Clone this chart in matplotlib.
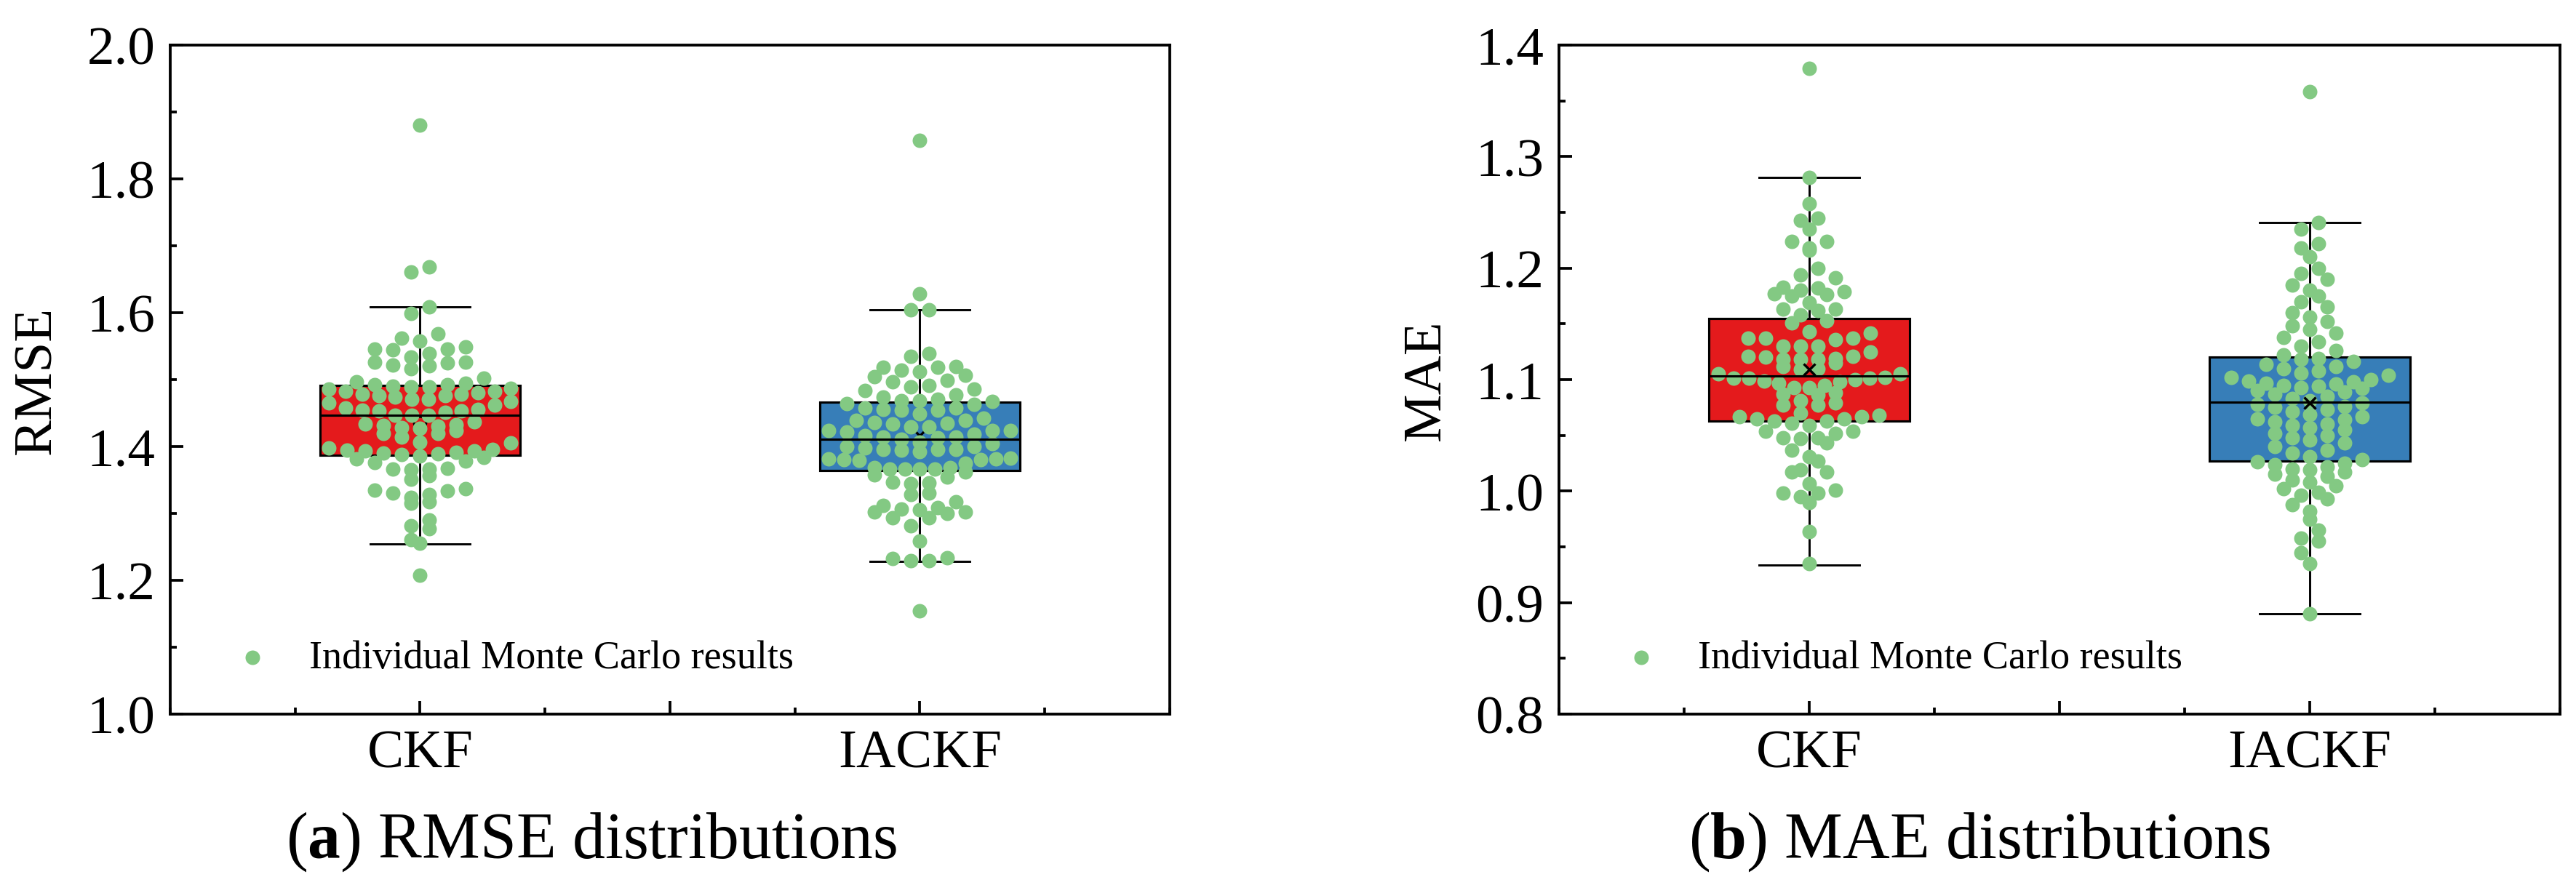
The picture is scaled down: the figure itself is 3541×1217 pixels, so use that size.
import numpy as np
import matplotlib
matplotlib.use('Agg')
import matplotlib.pyplot as plt
from matplotlib.ticker import MultipleLocator, FormatStrFormatter

plt.rcParams['font.family'] = ['Liberation Serif', 'DejaVu Serif']
plt.rcParams['mathtext.fontset'] = 'custom'
plt.rcParams['mathtext.rm'] = 'Liberation Serif'
plt.rcParams['mathtext.bf'] = 'Liberation Serif:bold'

groups = ['CKF', 'IACKF']

# individual Monte Carlo runs
rmse_ckf = [1.487, 1.478, 1.393, 1.497, 1.467, 1.453, 1.437, 1.386, 1.367,
            1.483, 1.474, 1.451, 1.428, 1.526, 1.396, 1.366, 1.328,
            1.546, 1.492, 1.480, 1.447, 1.434, 1.420, 1.539, 1.390, 1.378, 1.335,
            1.549, 1.502, 1.489, 1.476, 1.455, 1.431, 1.407,
            1.568, 1.526, 1.398, 1.384, 1.357, 1.330, 1.317, 1.282, 1.261,
            1.609, 1.599, 1.558, 1.516, 1.490, 1.462, 1.453, 1.430, 1.405, 1.277, 1.208,
            1.562, 1.525, 1.393, 1.366, 1.351, 1.324, 1.315, 1.290, 1.255,
            1.545, 1.521, 1.489, 1.478, 1.447, 1.427, 1.414,
            1.522, 1.391, 1.382, 1.334, 1.546, 1.495, 1.471, 1.458, 1.420,
            1.534, 1.395, 1.365, 1.337, 1.486, 1.476, 1.454, 1.424, 1.389, 1.376,
            1.492, 1.465, 1.447, 1.433, 1.388, 1.483, 1.471,
            1.880, 1.669, 1.661]
rmse_iackf = [1.628, 1.604, 1.604, 1.539, 1.535, 1.518, 1.518, 1.520, 1.514, 1.512,
              1.504, 1.499, 1.506, 1.497, 1.491, 1.486, 1.489, 1.484, 1.477, 1.474,
              1.464, 1.471, 1.469, 1.468, 1.467, 1.463, 1.458, 1.454, 1.455, 1.458,
              1.454, 1.449, 1.439, 1.439, 1.442, 1.435, 1.429, 1.424, 1.436, 1.434,
              1.429, 1.424, 1.424, 1.422, 1.414, 1.411, 1.418, 1.407, 1.416, 1.414,
              1.413, 1.400, 1.392, 1.396, 1.396, 1.400, 1.395, 1.396, 1.404, 1.398,
              1.380, 1.382, 1.382, 1.380, 1.383, 1.379, 1.375, 1.366, 1.368, 1.362,
              1.366, 1.366, 1.369, 1.366, 1.354, 1.358, 1.347, 1.346, 1.345, 1.330,
              1.328, 1.317, 1.307, 1.305, 1.312, 1.302, 1.300, 1.293, 1.294, 1.302,
              1.309, 1.282, 1.259, 1.229, 1.234, 1.233, 1.229, 1.858, 1.154]
mae_ckf = [1.281, 1.258, 1.243, 1.245, 1.235, 1.224, 1.216, 1.224, 1.218, 1.200,
           1.194, 1.191, 1.183, 1.182, 1.180, 1.179, 1.176, 1.177, 1.175,
           1.169, 1.163, 1.158, 1.163, 1.162, 1.153, 1.151,
           1.142, 1.137, 1.143, 1.137, 1.137, 1.130, 1.136, 1.130, 1.130,
           1.118, 1.118, 1.121, 1.120, 1.121, 1.118, 1.119, 1.125, 1.115,
           1.112, 1.110, 1.109,
           1.105, 1.100, 1.101, 1.098, 1.099, 1.102, 1.105, 1.101, 1.101,
           1.097, 1.095, 1.093, 1.093, 1.088, 1.086, 1.087,
           1.077, 1.077, 1.081, 1.079, 1.070, 1.067, 1.067, 1.068,
           1.061, 1.063, 1.059, 1.063, 1.065, 1.065,
           1.054, 1.048, 1.052, 1.048, 1.054, 1.047,
           1.043, 1.037, 1.031, 1.027, 1.019, 1.017, 1.017,
           1.007, 1.001, 0.998, 0.995, 0.998, 0.990, 0.964, 0.935, 1.379]
mae_iackf = [0.890, 0.935, 0.945, 0.955, 0.958, 0.965, 0.975, 0.982, 0.988, 0.993,
             0.996, 0.999, 1.002, 1.005, 1.008, 1.010, 1.013, 1.015, 1.017, 1.019,
             1.020, 1.022, 1.024, 1.025, 1.026, 1.028, 1.031, 1.034, 1.037, 1.040,
             1.043, 1.046, 1.048, 1.050, 1.052, 1.055, 1.057, 1.059, 1.060, 1.062,
             1.064, 1.065, 1.067, 1.069, 1.071, 1.073, 1.075, 1.076, 1.078, 1.079,
             1.081, 1.083, 1.085, 1.087, 1.089, 1.090, 1.092, 1.093, 1.094, 1.095,
             1.096, 1.097, 1.098, 1.099, 1.100, 1.102, 1.104, 1.106, 1.108, 1.110,
             1.112, 1.114, 1.116, 1.118, 1.119, 1.122, 1.126, 1.130, 1.134, 1.138,
             1.142, 1.145, 1.148, 1.152, 1.156, 1.160, 1.165, 1.170, 1.175, 1.180,
             1.185, 1.190, 1.195, 1.200, 1.210, 1.218, 1.222, 1.235, 1.241, 1.358]

# box statistics as drawn in the figure
rmse_q1 = [1.387, 1.364]
rmse_med = [1.447, 1.411]
rmse_q3 = [1.491, 1.466]
rmse_lo = [1.254, 1.228]
rmse_hi = [1.609, 1.604]
rmse_mean = [1.436, 1.416]

mae_q1 = [1.063, 1.027]
mae_med = [1.103, 1.080]
mae_q3 = [1.155, 1.120]
mae_lo = [0.934, 0.890]
mae_hi = [1.281, 1.241]
mae_mean = [1.109, 1.079]

box_colors = ['#E41A1C', '#377EB8']
dot_color = '#83C983'
positions = [1, 3]


def swarm_x(ax, x0, vals, bin_px=19, gap_px=25, half_px=125):
    # rows of dots: bin by screen height, spread each row around the centre,
    # squeezing a row when it would get wider than the box
    vals = np.asarray(vals, float)
    pts = ax.transData.transform(np.column_stack([np.full(len(vals), x0), vals]))
    rows = np.floor(pts[:, 1] / bin_px)
    offs = np.zeros(len(vals))
    for r in np.unique(rows):
        idx = np.where(rows == r)[0]
        idx = idx[np.argsort(vals[idx])]
        k = len(idx)
        gap = gap_px if k < 2 else min(gap_px, 2 * half_px / (k - 1))
        slots = (np.arange(k) - (k - 1) / 2) * gap
        slots = slots[np.argsort(np.abs(slots), kind='stable')]
        offs[idx] = slots
    pts[:, 0] += offs
    return ax.transData.inverted().transform(pts)[:, 0]


def draw_panel(ax, samples, q1, med, q3, lo, hi, mean, mean_marks, mean_z,
               ylim, major, minor, ylabel, gap):
    ax.set_xlim(0, 4)
    ax.set_ylim(*ylim)
    stats = []
    for i in range(2):
        stats.append(dict(med=med[i], q1=q1[i], q3=q3[i], whislo=lo[i],
                          whishi=hi[i], mean=mean[i], fliers=[]))
    bp = ax.bxp(stats, positions=positions, widths=0.8, capwidths=0.4,
                patch_artist=True, showfliers=False, manage_ticks=False,
                boxprops=dict(linewidth=0.75, edgecolor='black'),
                whiskerprops=dict(linewidth=0.7, color='black'),
                capprops=dict(linewidth=0.7, color='black'),
                medianprops=dict(linewidth=0.75, color='black'),
                zorder=1)
    for patch, c in zip(bp['boxes'], box_colors):
        patch.set_facecolor(c)
    for m in bp['medians']:
        m.set_zorder(4)

    for x0, mv, mk in zip(positions, mean, mean_marks):
        if mk == 'o':
            ax.plot(x0, mv, 'o', ms=4, mfc='none', mec='black', mew=0.7, zorder=mean_z)
        else:
            ax.plot(x0, mv, 'x', ms=4, color='black', mew=0.8, zorder=mean_z)

    sc = None
    for x0, vals in zip(positions, samples):
        xs = swarm_x(ax, x0, vals, gap_px=gap)
        sc = ax.scatter(xs, vals, s=23, color=dot_color, linewidths=0, zorder=3)

    ax.set_xticks(positions + [2])
    ax.set_xticklabels(groups + [''])
    ax.xaxis.set_minor_locator(MultipleLocator(0.5))
    ax.yaxis.set_major_locator(MultipleLocator(major))
    ax.yaxis.set_minor_locator(MultipleLocator(minor))
    ax.yaxis.set_major_formatter(FormatStrFormatter('%.1f'))
    ax.tick_params(which='both', direction='in', top=False, right=False, width=0.9)
    ax.tick_params(which='major', length=4.3, labelsize=18, pad=5)
    ax.tick_params(which='minor', length=2.2)
    for s in ax.spines.values():
        s.set_linewidth(0.92)
    ax.set_ylabel(ylabel, fontsize=18)
    ax.yaxis.set_label_coords(-0.108, 0.5)

    ax.legend([sc], ['Individual Monte Carlo results'], loc='center left',
              bbox_to_anchor=(0.0626, 0.0837), frameon=False, borderpad=0,
              borderaxespad=0, handlelength=1.0, handletextpad=0.93,
              scatterpoints=1, fontsize=13)


fig = plt.figure(figsize=(3541 / 300, 1218 / 300), dpi=300)
ax1 = fig.add_axes([0.06608, 0.19294, 0.38803, 0.75534])
ax2 = fig.add_axes([0.60520, 0.19294, 0.38859, 0.75534])

draw_panel(ax1, [rmse_ckf, rmse_iackf], rmse_q1, rmse_med, rmse_q3, rmse_lo,
           rmse_hi, rmse_mean, ['o', 'x'], 2, (1.0, 2.0), 0.2, 0.1, 'RMSE', 25)
draw_panel(ax2, [mae_ckf, mae_iackf], mae_q1, mae_med, mae_q3, mae_lo,
           mae_hi, mae_mean, ['x', 'x'], 5, (0.8, 1.4), 0.1, 0.05, 'MAE', 24)

fig.text(0.2296, 0.0312, r'($\mathbf{a}$) RMSE distributions', ha='center',
         va='baseline', fontsize=21.5)
fig.text(0.7684, 0.0312, r'($\mathbf{b}$) MAE distributions', ha='center',
         va='baseline', fontsize=21.5)

fig.savefig('out.png', dpi=300)
